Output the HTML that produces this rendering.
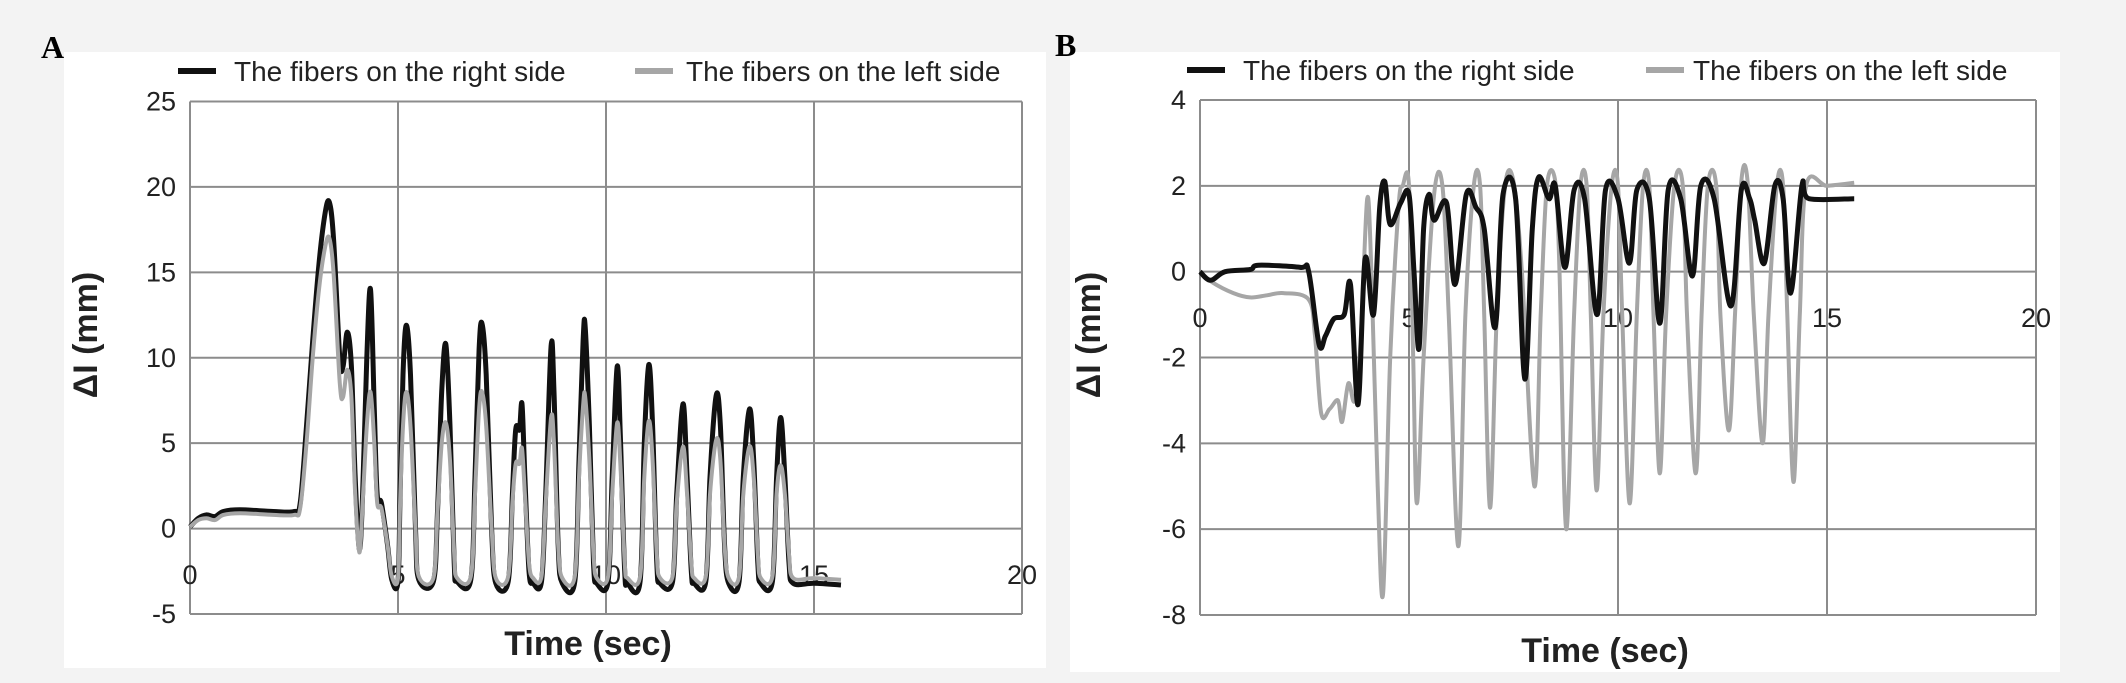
<!DOCTYPE html>
<html><head><meta charset="utf-8"><style>
html,body{margin:0;padding:0;background:#f3f3f3;}
svg{display:block;}
text{font-family:"Liberation Sans Narrow","Liberation Sans",sans-serif;fill:#222;}
.tick{font-size:27px;}
.leg{font-size:28px;}
.ttl{font-size:34px;font-weight:bold;font-family:"Liberation Sans",sans-serif;}
.pl{font-family:"Liberation Serif",serif;font-weight:bold;font-size:32px;fill:#000;}
</style></head><body>
<svg id="svg" width="2126" height="683" viewBox="0 0 2126 683" xmlns="http://www.w3.org/2000/svg">
<rect x="0" y="0" width="2126" height="683" fill="#f3f3f3"/>
<rect x="64" y="52" width="982" height="616" fill="#ffffff"/>
<rect x="1070" y="52" width="990" height="620" fill="#ffffff"/>
<text class="pl" x="41" y="58">A</text>
<text class="pl" x="1055" y="56">B</text>
<g id="chartA"></g>
<g id="chartB"></g>
</svg>
<script>
const timesA = [0,0.2,0.4,0.6,0.8,1.2,2.0,2.5,2.65,2.8,2.95,3.1,3.25,3.35,3.45,3.6,3.68,3.78,3.88,3.97,4.07,4.15,4.25,4.34,4.43,4.5,4.6,4.75,4.85,5.0,5.05,5.12,5.2,5.3,5.42,5.5,5.85,5.95,6.05,6.15,6.25,6.35,6.42,6.75,6.85,6.95,7.02,7.12,7.25,7.35,7.65,7.75,7.83,7.92,7.98,8.05,8.15,8.25,8.45,8.55,8.68,8.75,8.85,8.95,9.25,9.35,9.45,9.5,9.6,9.7,9.78,10.05,10.15,10.27,10.35,10.45,10.52,10.82,10.92,11.03,11.12,11.22,11.3,11.6,11.7,11.85,11.95,12.05,12.12,12.4,12.5,12.65,12.75,12.85,12.95,13.2,13.3,13.45,13.55,13.65,13.72,14.0,14.1,14.2,14.3,14.4,14.5,15.0,15.65];
const rightA = [0.1,0.6,0.8,0.7,1.0,1.1,1.0,1.0, 1.5,6,11,15.5,18.5,19.1,17, 10,9.5,11.5,9.5,3,-1.2, 2,10,14,7,2,1.5,-1,-3,-3.1, 2,9,11.9,9,0,-3,-3.1, 1,8,10.8,6,-2,-3.1,-3, 3,10.5,12,9,0,-3.2,-3.1, 2,5.8,5.8,7.3,3,-2.5,-3.2,-3.1, 2,10.7,8,-1,-3.2,-3.1, 4,11,11.8,6,-2,-3.2,-3.1, 3,9.5,5,-2.5,-3.2,-3.1, 5,9.6,6,-2,-3.2,-3.1, 2,7.3,3,-2.5,-3.2,-3.1, 3,7.8,6,-1,-3.2,-3.1, 3,7.0,4,-2,-3.2,-3.1, 3,6.5,3,-2,-3.2,-3.2,-3.3];
const leftA = [0.1,0.5,0.6,0.5,0.8,0.9,0.8,0.8, 1.2,5,10,14,16.5,17,15, 8.5,7.7,9.3,7.7,2,-1.4, 1.5,6,8,5,1.5,1.2,-1,-2.8,-2.9, 1.5,6,8,6,0,-2.8,-2.9, 1,5,6.2,4,-1.5,-2.9,-2.8, 2,7,8,6,0,-2.9,-2.8, 1.5,3.8,3.8,4.7,2,-2,-2.9,-2.8, 1.5,6.5,5,-1,-2.9,-2.8, 3,7.2,7.7,4,-1.5,-2.9,-2.8, 2,6.2,3.5,-2,-2.9,-2.8, 3,6.3,4,-1.5,-2.9,-2.8, 1.5,4.8,2,-2,-2.9,-2.8, 2,5.2,4,-1,-2.9,-2.8, 2,4.8,3,-1.5,-2.9,-2.8, 2,3.7,2,-1.5,-2.9,-2.9,-3.0];
const yTicksA = [-5,0,5,10,15,20,25];
const xTicks = [0,5,10,15,20];
const rightB = [[0,0],[0.25,-0.2],[0.6,0],[1.2,0.05],[1.4,0.15],[2.4,0.1],[2.6,0],[2.85,-1.7],[3.0,-1.5],[3.2,-1.1],[3.45,-1.0],[3.6,-0.3],[3.78,-3.1],[3.95,0.3],[4.15,-1.0],[4.3,1.5],[4.42,2.1],[4.55,1.1],[4.8,1.6],[5.0,1.8],[5.12,0],[5.24,-1.8],[5.35,1.0],[5.48,1.8],[5.6,1.2],[5.9,1.6],[6.1,-0.3],[6.37,1.8],[6.6,1.5],[6.8,1.0],[7.06,-1.3],[7.25,1.8],[7.55,1.7],[7.77,-2.5],[7.95,1.0],[8.1,2.2],[8.35,1.7],[8.5,2.0],[8.73,0.1],[8.95,1.9],[9.2,1.7],[9.5,-1.0],[9.7,1.9],[10.0,1.7],[10.27,0.2],[10.45,1.9],[10.75,1.7],[11.0,-1.2],[11.2,1.9],[11.5,1.7],[11.78,-0.1],[11.98,2.0],[12.3,1.7],[12.7,-0.8],[12.95,1.9],[13.15,1.7],[13.27,1.2],[13.5,0.2],[13.75,2.0],[13.95,1.7],[14.13,-0.5],[14.4,2.0],[14.57,1.7],[15.65,1.7]];
const leftB = [[0,0],[0.3,-0.25],[0.8,-0.5],[1.2,-0.6],[1.6,-0.55],[2.0,-0.5],[2.6,-0.65],[2.75,-1.5],[2.9,-3.3],[3.1,-3.2],[3.3,-3.0],[3.4,-3.5],[3.55,-2.6],[3.7,-3.0],[3.85,-1.5],[4.0,1.7],[4.1,0],[4.25,-5],[4.38,-7.5],[4.55,-2],[4.75,1.5],[4.85,2.0],[5.0,2.0],[5.1,-2],[5.19,-5.4],[5.35,-2],[5.6,1.8],[5.8,2.0],[5.95,-1],[6.18,-6.4],[6.35,-1],[6.55,2.0],[6.7,2.0],[6.8,-1],[6.94,-5.5],[7.1,-1],[7.3,2.0],[7.5,2.1],[7.7,0],[8.0,-5.0],[8.15,-1],[8.3,2.0],[8.5,2.1],[8.6,0],[8.76,-6.0],[8.95,-1],[9.1,2.0],[9.25,2.0],[9.35,-1],[9.49,-5.1],[9.65,-1],[9.85,2.0],[10.0,2.0],[10.1,-1],[10.28,-5.4],[10.45,-1],[10.6,2.0],[10.75,2.0],[10.85,-1],[11.0,-4.7],[11.15,-1],[11.35,2.0],[11.55,2.0],[11.65,-1],[11.86,-4.7],[12.0,-1],[12.15,2.0],[12.35,2.0],[12.45,-1],[12.65,-3.7],[12.8,-1],[12.95,2.1],[13.1,2.1],[13.25,-1],[13.46,-4.0],[13.6,-1],[13.8,2.0],[13.95,2.0],[14.05,-1],[14.2,-4.9],[14.35,-1],[14.5,2.0],[15.0,2.0],[15.65,2.07]];
const yTicksB = [-8,-6,-4,-2,0,2,4];
const legendLabels = ["The fibers on the right side","The fibers on the left side"];

const NS = "http://www.w3.org/2000/svg";
function mk(parent, tag, attrs, txt){
  const e = document.createElementNS(NS, tag);
  for (const k in attrs) e.setAttribute(k, attrs[k]);
  if (txt !== undefined) e.textContent = txt;
  parent.appendChild(e);
  return e;
}
function smooth(P){
  let d = 'M' + P[0][0].toFixed(1) + ' ' + P[0][1].toFixed(1);
  for (let i = 0; i < P.length - 1; i++){
    const p0 = P[Math.max(0, i-1)], p1 = P[i], p2 = P[i+1], p3 = P[Math.min(P.length-1, i+2)];
    const k = 1/6;
    const c1x = p1[0] + (p2[0]-p0[0])*k, c1y = p1[1] + (p2[1]-p0[1])*k;
    const c2x = p2[0] - (p3[0]-p1[0])*k, c2y = p2[1] - (p3[1]-p1[1])*k;
    d += ' C' + c1x.toFixed(1) + ' ' + c1y.toFixed(1) + ' ' + c2x.toFixed(1) + ' ' + c2y.toFixed(1) + ' ' + p2[0].toFixed(1) + ' ' + p2[1].toFixed(1);
  }
  return d;
}

function drawChart(g, cfg){
  const xs = v => cfg.x0 + (v - 0) / 20 * (cfg.x1 - cfg.x0);
  const ys = v => cfg.yb + (v - cfg.ymin) / (cfg.ymax - cfg.ymin) * (cfg.yt - cfg.yb);
  cfg.yTicks.forEach(t => {
    const l = mk(g, 'line', {x1: cfg.x0, x2: cfg.x1, y1: ys(t), y2: ys(t), stroke: '#8c8c8c', 'stroke-width': 2});
    
    
    const tx = mk(g, 'text', {x: cfg.x0 - 14, y: ys(t) + 9, 'text-anchor': 'end', class: 'tick'}, String(t));
    
    
  });
  xTicks.forEach(t => {
    const l = mk(g, 'line', {x1: xs(t), x2: xs(t), y1: ys(cfg.ymax), y2: ys(cfg.ymin), stroke: '#8c8c8c', 'stroke-width': 2});
    
    
    const tx = mk(g, 'text', {x: xs(t), y: cfg.xLabY, 'text-anchor': 'middle', class: 'tick'}, String(t));
    
    
  });
  cfg.series.forEach(s => {
    const P = s.pts.map(p => [xs(p[0]), ys(p[1])]);
    const p = mk(g, 'path', {d: smooth(P), fill: 'none', stroke: s.color, 'stroke-width': s.w, 'stroke-linejoin': 'round'});
    
    
  });
  const lg = mk(g, 'g', {});
  
  
  cfg.legend.forEach((L, i) => {
    const ln = mk(lg, 'line', {x1: L.lx, x2: L.lx + 38, y1: cfg.legY, y2: cfg.legY, stroke: L.color, 'stroke-width': 6});
    
    
    const t = mk(lg, 'text', {x: L.tx, y: cfg.legY + 10, class: 'leg'}, legendLabels[i]);
    
    
  });
  const yt = mk(g, 'text', {x: cfg.yTitleX, y: cfg.yTitleY, 'text-anchor': 'middle', class: 'ttl', transform: 'rotate(-90 ' + cfg.yTitleX + ' ' + cfg.yTitleY + ')'}, 'ΔI (mm)');
  
  
  const xt = mk(g, 'text', {x: cfg.xTitleX, y: cfg.xTitleY, 'text-anchor': 'middle', class: 'ttl'}, 'Time (sec)');
  
  
}

const ptsRightA = timesA.map((t, i) => [t, rightA[i]]);
const ptsLeftA = timesA.map((t, i) => [t, leftA[i]]);

drawChart(document.getElementById('chartA'), {
  x0: 190, x1: 1022, yt: 101.5, yb: 614, ymin: -5, ymax: 25, yTicks: yTicksA,
  xLabY: 584, legY: 71,
  legend: [{lx: 178, tx: 234, color: '#111'}, {lx: 635, tx: 686, color: '#a6a6a6'}],
  yTitleX: 97, yTitleY: 335, xTitleX: 588, xTitleY: 655,
  series: [
    {pts: ptsRightA, color: '#111', w: 5, name: 'series-right-side'},
    {pts: ptsLeftA, color: '#a6a6a6', w: 4, name: 'series-left-side'}
  ]
});
drawChart(document.getElementById('chartB'), {
  x0: 1200, x1: 2036, yt: 100, yb: 615, ymin: -8, ymax: 4, yTicks: yTicksB,
  xLabY: 327, legY: 70,
  legend: [{lx: 1187, tx: 1243, color: '#111'}, {lx: 1646, tx: 1693, color: '#a6a6a6'}],
  yTitleX: 1100, yTitleY: 335, xTitleX: 1605, xTitleY: 662,
  series: [
    {pts: leftB, color: '#a6a6a6', w: 4, name: 'series-left-side'},
    {pts: rightB, color: '#111', w: 5, name: 'series-right-side'}
  ]
});
</script>
</body></html>
